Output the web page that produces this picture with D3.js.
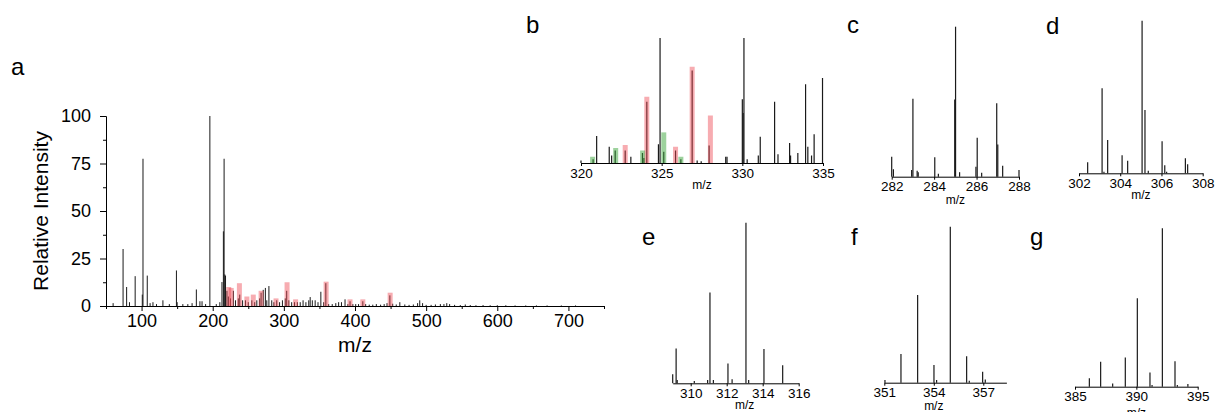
<!DOCTYPE html>
<html>
<head>
<meta charset="utf-8">
<script src="https://cdn.jsdelivr.net/npm/d3@7/dist/d3.min.js"></script>
<style>
body { margin: 0; background: #fff; }
svg { display: block; font-family: "Liberation Sans", Arial, sans-serif; }
</style>
</head>
<body>
<svg id="chart" width="1215" height="412"></svg>
<script>
// ---- data: [m/z, relative intensity] ----

// panel a, full spectrum
var peaksA = [[60,1.5],[74,30],[79,10],[83,2],[91,15.7],[101,6],[102,77.5],[108,16],[112,1.5],[116,2],
	[121,1],[130,3],[139,1],[149,18.7],[150,2],[158,1],[165,1],[171,1.5],[177,8.7],[182,2.5],[185,2.5],
	[190,1],[196,100],[205,1],[210,2],[213,12.6],[215,39.3],[216,77.5],[217,16.6],[218,16],[220,8],
	[222,5],[225,4],[229,8],[232,3],[236,4],[238,6],[242,3],[246,3],[250,2],[255,3],[259,2],[262,3],
	[266,4],[268,7],[271,8.5],[274,9.5],[276,3],[279,10.5],[283,3],[286,2],[290,3],[294,2],[298,3],
	[302,4],[304,8],[307,3],[311,2],[315,2],[319,2],[323,2],[327,3],[331,2],[335,3],[337,4.7],[340,3],
	[344,3],[348,2],[352,7.5],[356,2],[359,12],[363,1],[368,1],[373,1.5],[377,2],[381,2],[386,3.5],
	[390,1],[393,2.5],[397,1],[401,1],[405,1],[411,2.5],[415,1],[420,0.7],[425,0.7],[430,1],[436,0.7],
	[441,1],[445,1.5],[449,5.6],[453,1.2],[458,0.8],[463,2],[470,0.8],[476,0.6],[482,0.8],[488,1.5],
	[491,3],[495,1.5],[500,0.6],[507,0.6],[513,0.8],[520,1],[525,1],[529,1.5],[533,1],[540,0.6],
	[548,0.5],[555,0.8],[562,0.5],[570,0.4],[580,0.5],[590,0.4],[600,0.4],[612,0.4],[625,0.3],
	[640,0.3],[655,0.3],[670,0.3],[690,0.3],[710,0.3]];
var redA = [[222.5,10],[226,9.5],[237.5,12],[248,5],[257,6],[268,8],[289,4],[304.5,12.5],[316.5,3.5],
	[359.4,12.8],[393,3.5],[411,3.5],[449.4,7]];

// panel b
var peaksB = [[320.0,2],[320.75,3],[320.97,21.6],[321.75,13],[321.9,6],[322.12,10],[322.74,10],[323.09,5],
	[323.81,8],[323.9,4],[324.08,49],[324.8,15],[324.9,100],[325.13,9],[325.86,10],[326.19,3],
	[326.89,74],[327.2,2],[327.45,1.5],[327.94,14],[328.97,5],[329.05,5],[330.0,51],[330.05,40],
	[330.1,100],[330.3,3],[330.99,6],[331.11,21],[332.0,49],[332.21,7],[332.93,16],[332.99,6],
	[333.44,8],[333.92,63],[334.06,13],[334.29,6],[334.45,23],[334.97,68]];
var redB = [[322.74,14.4],[324.08,53],[325.86,13],[326.89,77],[328.02,38]];
var greenB = [[320.72,5],[322.15,12],[323.82,10],[325.13,24.5],[326.19,5]];

// panel c
var peaksC = [[282.0,13.3],[282.08,5],[282.94,4.4],[283.0,52],[283.2,4],[283.25,3],[284.03,13],[284.2,2],
	[284.97,51.5],[285.01,100],[285.2,3],[285.97,6.7],[286.03,26],[286.24,2.7],[286.95,49],[287.0,21.5],
	[287.23,7.3],[288.0,4.4]];

// panel d
var peaksD = [[302.42,7.2],[303.12,55.7],[303.21,1],[303.39,21.8],[304.09,11.8],[304.36,8.3],[305.06,100],
	[305.2,41.5],[305.36,1.7],[306.03,21],[306.16,5.2],[306.25,1],[307.16,9.8],[307.27,5.9]];

// panel e
var peaksE = [[309.0,5.6],[309.19,21.6],[309.25,2],[310.2,1.5],[310.94,2],[311.07,56.6],[311.26,2],
	[312.07,12.4],[312.3,2.5],[313.07,100],[313.22,2],[314.07,21.4],[315.11,11.2]];

// panel f
var peaksF = [[351.04,1.7],[352.01,18.4],[353.02,56.2],[354.01,11.3],[354.17,1.7],[355.0,100],
	[355.99,17],[356.15,1.2],[356.96,7],[357.12,2]];

// panel g
var peaksG = [[386.17,5.3],[387.09,15.8],[388.07,2],[389.1,18.5],[390.08,55.8],[391.11,9],[391.28,1],
	[392.12,100],[393.15,16],[393.34,1],[394.2,1.7]];

// ticks
var ticksAx = [100, 200, 300, 400, 500, 600, 700];
var minorAx = [50, 150, 250, 350, 450, 550, 650, 750];
var ticksAy = [0, 25, 50, 75, 100];
var minorAy = [12.5, 37.5, 62.5, 87.5];
var ticksB = [320, 325, 330, 335];
var ticksC = [282, 284, 286, 288];
var ticksD = [302, 304, 306, 308];
var ticksE = [310, 312, 314, 316];
var ticksF = [351, 354, 357];
var ticksG = [385, 390, 395];

var RED = "rgba(238, 70, 82, 0.45)";
var GREEN = "rgba(60, 165, 60, 0.5)";

var svg = d3.select("#chart");

function drawPeaks(g, data, x, y, color, width) {

	g.selectAll(null).data(data).enter().append("line") //
	.attr("x1", function(d) { return x(d[0]); }) //
	.attr("x2", function(d) { return x(d[0]); }) //
	.attr("y1", y(0)) //
	.attr("y2", function(d) { return y(d[1]); }) //
	.attr("stroke", color) //
	.attr("stroke-width", width);

}// END: drawPeaks

function drawBars(g, data, x, y, fill, w) {

	g.selectAll(null).data(data).enter().append("rect") //
	.attr("x", function(d) { return x(d[0]) - w / 2; }) //
	.attr("y", function(d) { return y(d[1]); }) //
	.attr("width", w) //
	.attr("height", function(d) { return y(0) - y(d[1]); }) //
	.attr("fill", fill);

}// END: drawBars

function styleAxis(g, size) {
	g.selectAll("path").attr("stroke", "#000").attr("stroke-width", 1);
	g.selectAll("line").attr("stroke", "#000").attr("stroke-width", 1);
	g.selectAll("text").attr("fill", "#000").style("font-size", size + "px");
}

function panelLabel(txt, x, y) {
	svg.append("text").attr("x", x).attr("y", y).text(txt) //
	.style("font-size", "24px").attr("fill", "#000");
}

// ---- panel a ----
var xA = d3.scaleLinear().domain([50, 750]).range([106, 604]);
var yA = d3.scaleLinear().domain([0, 100]).range([306, 116]);
var gA = svg.append("g");

drawPeaks(gA, peaksA, xA, yA, "#1a1a1a", 1);
drawBars(gA, redA, xA, yA, RED, 5);

var axA = gA.append("g").attr("transform", "translate(0," + yA(0) + ")") //
.call(d3.axisBottom(xA).tickValues(ticksAx).tickSize(5).tickSizeOuter(0).tickPadding(3));
styleAxis(axA, 18);
var axAm = gA.append("g").attr("transform", "translate(0," + yA(0) + ")") //
.call(d3.axisBottom(xA).tickValues(minorAx).tickSize(3).tickSizeOuter(0).tickFormat(""));
styleAxis(axAm, 18);

var ayA = gA.append("g").attr("transform", "translate(" + xA(50) + ",0)") //
.call(d3.axisLeft(yA).tickValues(ticksAy).tickSize(6).tickSizeOuter(0).tickPadding(9));
styleAxis(ayA, 18);
var ayAm = gA.append("g").attr("transform", "translate(" + xA(50) + ",0)") //
.call(d3.axisLeft(yA).tickValues(minorAy).tickSize(3).tickSizeOuter(0).tickFormat(""));
styleAxis(ayAm, 18);

gA.append("text").attr("x", 355).attr("y", 352).attr("text-anchor", "middle") //
.style("font-size", "21px").text("m/z");
gA.append("text").attr("transform", "translate(48,211) rotate(-90)") //
.attr("text-anchor", "middle").style("font-size", "21px").text("Relative Intensity");

panelLabel("a", 11, 75);

// ---- zoomed panels ----
function drawInset(cfg) {

	var x = d3.scaleLinear().domain(cfg.domain).range(cfg.range);
	var y = d3.scaleLinear().domain([0, 100]).range([cfg.base, cfg.top]);
	var g = svg.append("g");

	drawPeaks(g, cfg.peaks, x, y, "#1a1a1a", 1.2);
	if (cfg.red) drawBars(g, cfg.red, x, y, RED, 5);
	if (cfg.green) drawBars(g, cfg.green, x, y, GREEN, 5);

	var ax = g.append("g").attr("transform", "translate(0," + cfg.base + ")") //
	.call(d3.axisBottom(x).tickValues(cfg.ticks).tickSize(3).tickSizeOuter(0).tickPadding(2) //
	.tickFormat(d3.format("d")));
	styleAxis(ax, 13.5);

	g.append("text").attr("x", x((cfg.ticks[0] + cfg.ticks[cfg.ticks.length - 1]) / 2)) //
	.attr("y", cfg.titleY).attr("text-anchor", "middle") //
	.style("font-size", "12px").text("m/z");

	panelLabel(cfg.label, cfg.lx, cfg.ly);

}// END: drawInset

drawInset({ label: "b", lx: 526, ly: 33, peaks: peaksB, red: redB, green: greenB, ticks: ticksB,
	domain: [320, 335], range: [581, 823], base: 163, top: 38, titleY: 189 });
drawInset({ label: "c", lx: 847, ly: 33, peaks: peaksC, ticks: ticksC,
	domain: [282, 288], range: [891.7, 1019], base: 176.7, top: 26.7, titleY: 204 });
drawInset({ label: "d", lx: 1046, ly: 34, peaks: peaksD, ticks: ticksD,
	domain: [302, 308], range: [1079, 1202.7], base: 173.3, top: 20.7, titleY: 199 });
drawInset({ label: "e", lx: 642, ly: 245, peaks: peaksE, ticks: ticksE,
	domain: [309, 316], range: [672.7, 798.7], base: 383.3, top: 222.7, titleY: 409 });
drawInset({ label: "f", lx: 851, ly: 245, peaks: peaksF, ticks: ticksF,
	domain: [351, 358.4], range: [884.3, 1006.4], base: 382.7, top: 226.7, titleY: 409.5 });
drawInset({ label: "g", lx: 1030, ly: 245, peaks: peaksG, ticks: ticksG,
	domain: [385, 395], range: [1075, 1197.7], base: 386.7, top: 228.3, titleY: 417 });
</script>
</body>
</html>
